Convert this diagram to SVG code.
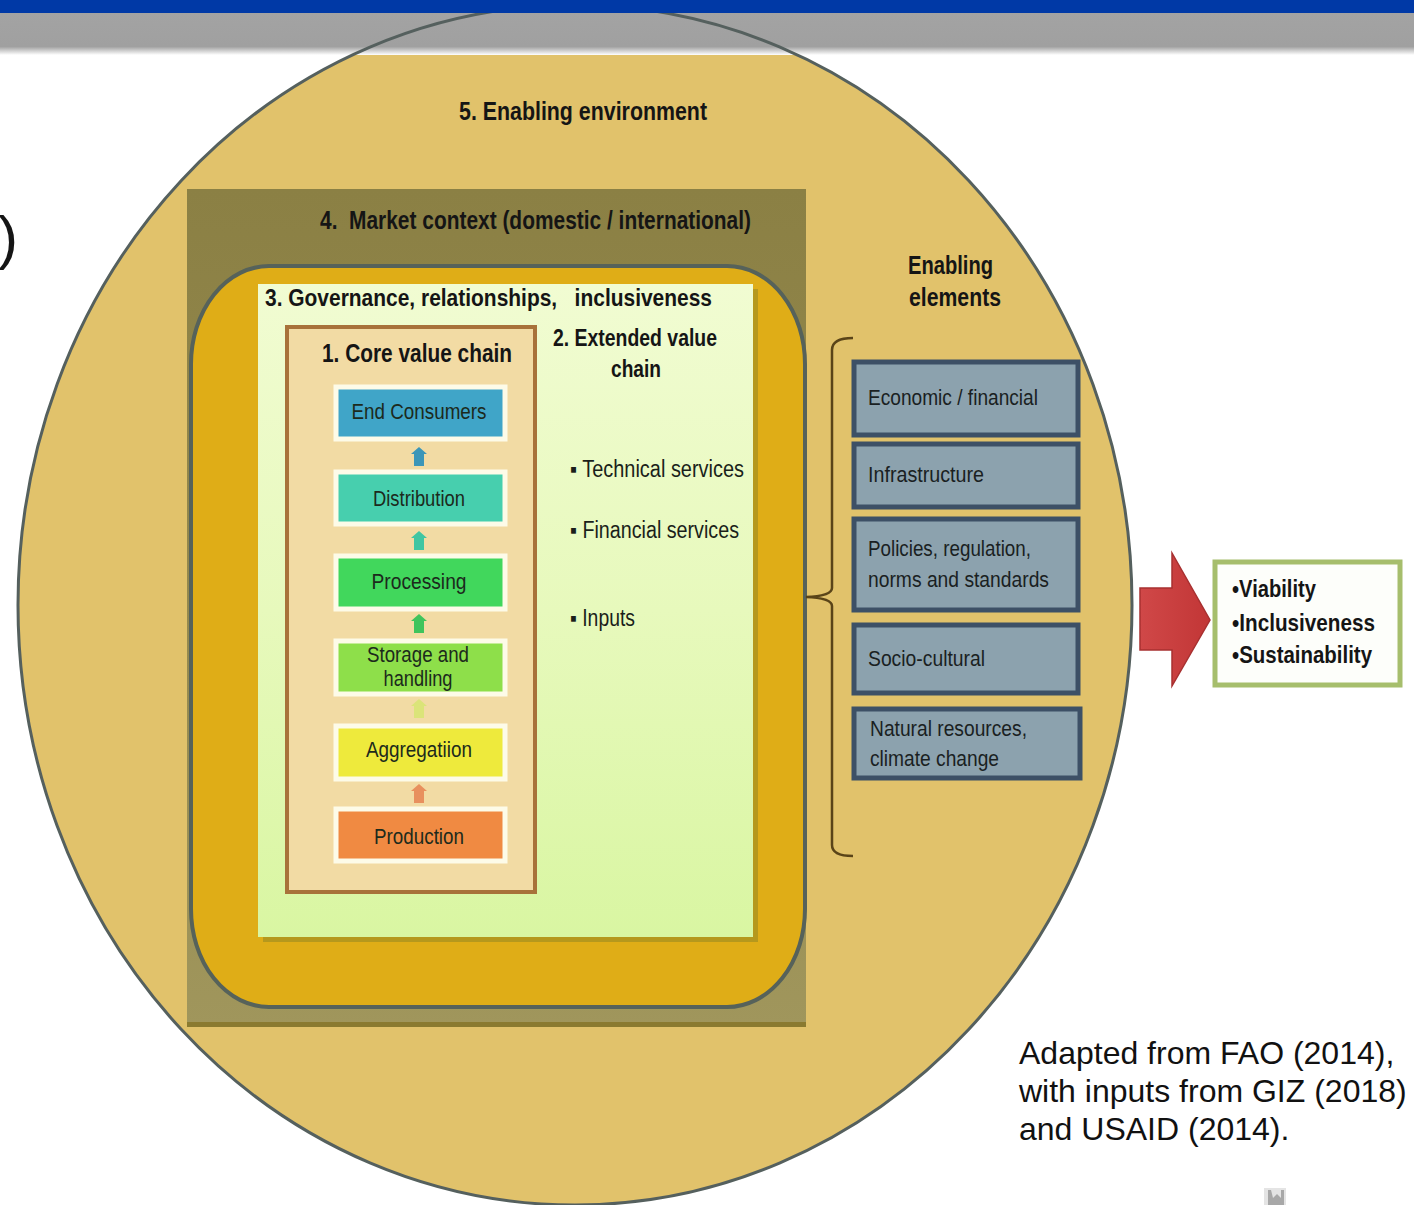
<svg xmlns="http://www.w3.org/2000/svg" width="1414" height="1205" viewBox="0 0 1414 1205">
<defs>
<style>
.t{font-family:"Liberation Sans",Arial,sans-serif;fill:#151515}
.b{font-weight:bold}
.ttl{font-size:25px;font-weight:bold}
.cv{font-size:22px;text-anchor:middle;fill:#1c2a1c}
.ee{font-size:22px;fill:#1a1f22}
.bl{font-size:23px;fill:#1a1f1a}
.cvbox{stroke:#fdfbe8;stroke-width:5}
.enb{fill:#8ca2ae;stroke:#3d5066;stroke-width:5}
.src{font-size:32px;fill:#111}
</style>
<linearGradient id="gBar" x1="0" y1="0" x2="0" y2="1">
<stop offset="0" stop-color="#a3a3a3"/><stop offset="0.8" stop-color="#a0a0a0"/><stop offset="1" stop-color="#ffffff"/>
</linearGradient>
<linearGradient id="gMkt" x1="0" y1="0" x2="0" y2="1">
<stop offset="0" stop-color="#8b8044"/><stop offset="0.6" stop-color="#968b50"/><stop offset="1" stop-color="#a0965c"/>
</linearGradient>
<linearGradient id="gGreen" x1="0" y1="0" x2="0" y2="1">
<stop offset="0" stop-color="#f1fcd2"/><stop offset="0.5" stop-color="#e7f9bc"/><stop offset="1" stop-color="#d9f6a2"/>
</linearGradient>
<linearGradient id="gRed" x1="0" y1="0" x2="1" y2="0">
<stop offset="0" stop-color="#d04848"/><stop offset="1" stop-color="#c23636"/>
</linearGradient>
</defs>

<rect x="0" y="0" width="1414" height="1205" fill="#ffffff"/>

<g id="enabling-environment">
<ellipse cx="575" cy="605" rx="557" ry="600" fill="#e1c26b"/>
</g>

<g id="header-bar">
<rect x="0" y="13" width="1414" height="42" fill="url(#gBar)"/>
</g>
<ellipse cx="575" cy="605" rx="557" ry="600" fill="none" stroke="#55605e" stroke-width="3"/>
<rect x="0" y="0" width="1414" height="13" fill="#0039a6"/>
<text class="t" x="-2" y="258" font-size="60">)</text>
<text class="t ttl" x="459" y="120" textLength="248" lengthAdjust="spacingAndGlyphs">5. Enabling environment</text>

<g id="market-context">
<rect x="187" y="189" width="619" height="838" fill="url(#gMkt)"/>
<rect x="187" y="1022" width="619" height="5" fill="#8a7a30"/>
<text class="t ttl" x="320" y="229" textLength="431" lengthAdjust="spacingAndGlyphs" style="white-space:pre">4.  Market context (domestic / international)</text>
</g>

<g id="governance">
<rect x="191" y="266" width="614" height="741" rx="78" ry="98" fill="#dfad17" stroke="#56625a" stroke-width="4"/>
<rect x="263" y="289" width="495" height="653" fill="#9a8a22" opacity="0.6"/>
<rect x="258" y="284" width="495" height="653" fill="url(#gGreen)"/>
<text class="t b" x="265" y="306" font-size="24" textLength="447" lengthAdjust="spacingAndGlyphs" style="white-space:pre">3. Governance, relationships,   inclusiveness</text>
</g>

<g id="extended-value-chain">
<text class="t b" x="635" y="346" font-size="24" text-anchor="middle" textLength="164" lengthAdjust="spacingAndGlyphs">2. Extended value</text>
<text class="t b" x="636" y="377" font-size="24" text-anchor="middle" textLength="50" lengthAdjust="spacingAndGlyphs">chain</text>
<text class="t bl" x="570" y="477" textLength="174" lengthAdjust="spacingAndGlyphs">▪ Technical services</text>
<text class="t bl" x="570" y="538" textLength="169" lengthAdjust="spacingAndGlyphs">▪ Financial services</text>
<text class="t bl" x="570" y="626" textLength="65" lengthAdjust="spacingAndGlyphs">▪ Inputs</text>
</g>

<g id="core-value-chain">
<rect x="287" y="327" width="248" height="565" fill="#f2dba4" stroke="#a8723a" stroke-width="4"/>
<text class="t b" x="322" y="362" font-size="26" textLength="190" lengthAdjust="spacingAndGlyphs">1. Core value chain</text>
</g>

<g id="end-consumers">
<rect class="cvbox" x="336" y="387" width="169" height="52" fill="#40a5c8"/>
<text class="t cv" x="419" y="419" textLength="135" lengthAdjust="spacingAndGlyphs">End Consumers</text>
</g>
<g id="distribution">
<rect class="cvbox" x="336" y="472" width="169" height="52" fill="#47cfae"/>
<text class="t cv" x="419" y="506" textLength="92" lengthAdjust="spacingAndGlyphs">Distribution</text>
</g>
<g id="processing">
<rect class="cvbox" x="336" y="556" width="169" height="53" fill="#41d75c"/>
<text class="t cv" x="419" y="589" textLength="95" lengthAdjust="spacingAndGlyphs">Processing</text>
</g>
<g id="storage-handling">
<rect class="cvbox" x="336" y="641" width="169" height="53" fill="#8edf4a"/>
<text class="t cv" x="418" y="662" textLength="102" lengthAdjust="spacingAndGlyphs">Storage and</text>
<text class="t cv" x="418" y="686" textLength="69" lengthAdjust="spacingAndGlyphs">handling</text>
</g>
<g id="aggregation">
<rect class="cvbox" x="336" y="726" width="169" height="53" fill="#eeea3c"/>
<text class="t cv" x="419" y="757" textLength="106" lengthAdjust="spacingAndGlyphs">Aggregatiion</text>
</g>
<g id="production">
<rect class="cvbox" x="336" y="809" width="169" height="52" fill="#f08a42"/>
<text class="t cv" x="419" y="844" textLength="90" lengthAdjust="spacingAndGlyphs">Production</text>
</g>

<g id="enabling-elements-title">
<text class="t ttl" x="908" y="274" textLength="85" lengthAdjust="spacingAndGlyphs">Enabling</text>
<text class="t ttl" x="909" y="306" textLength="92" lengthAdjust="spacingAndGlyphs">elements</text>
</g>

<g id="economic-financial">
<rect class="enb" x="854" y="362" width="224" height="73"/>
<text class="t ee" x="868" y="405" textLength="170" lengthAdjust="spacingAndGlyphs">Economic / financial</text>
</g>
<g id="infrastructure">
<rect class="enb" x="854" y="444" width="224" height="63"/>
<text class="t ee" x="868" y="482" textLength="116" lengthAdjust="spacingAndGlyphs">Infrastructure</text>
</g>
<g id="policies">
<rect class="enb" x="854" y="519" width="224" height="91"/>
<text class="t ee" x="868" y="556" textLength="163" lengthAdjust="spacingAndGlyphs">Policies, regulation,</text>
<text class="t ee" x="868" y="587" textLength="181" lengthAdjust="spacingAndGlyphs">norms and standards</text>
</g>
<g id="socio-cultural">
<rect class="enb" x="854" y="625" width="224" height="68"/>
<text class="t ee" x="868" y="666" textLength="117" lengthAdjust="spacingAndGlyphs">Socio-cultural</text>
</g>
<g id="natural-resources">
<rect class="enb" x="854" y="709" width="226" height="69"/>
<text class="t ee" x="870" y="736" textLength="157" lengthAdjust="spacingAndGlyphs">Natural resources,</text>
<text class="t ee" x="870" y="766" textLength="129" lengthAdjust="spacingAndGlyphs">climate change</text>
</g>

<g id="outcomes">
<rect x="1215" y="562" width="185" height="123" fill="#fdfefa" stroke="#a6be6c" stroke-width="5"/>
<text class="t b" x="1232" y="597" font-size="24" textLength="84" lengthAdjust="spacingAndGlyphs">•Viability</text>
<text class="t b" x="1232" y="631" font-size="24" textLength="143" lengthAdjust="spacingAndGlyphs">•Inclusiveness</text>
<text class="t b" x="1232" y="663" font-size="24" textLength="140" lengthAdjust="spacingAndGlyphs">•Sustainability</text>
</g>

<g id="connectors">
<polygon points="419,447 427,454 424,454 424,466 414,466 414,454 411,454" fill="#3c96b8"/>
<polygon points="419,531 427,538 424,538 424,550 414,550 414,538 411,538" fill="#40c6a2"/>
<polygon points="419,614 427,621 424,621 424,633 414,633 414,621 411,621" fill="#3fc45c"/>
<polygon points="419,699 427,706 424,706 424,718 414,718 414,706 411,706" fill="#d4e66e" opacity="0.8"/>
<polygon points="419,784 427,791 424,791 424,803 414,803 414,791 411,791" fill="#e8905e"/>
<path d="M853,338 Q832,338 832,350 L832,588 Q832,596 806,597 Q832,598 832,606 L832,845 Q832,856 853,856" fill="none" stroke="#5a4418" stroke-width="2.5"/>
<polygon points="1140,588 1172,588 1172,553 1210,620 1172,686 1172,650 1140,650" fill="url(#gRed)" stroke="#a83030" stroke-width="1.5"/>
</g>

<g id="source-note">
<text class="t src" x="1019" y="1064">Adapted from FAO (2014),</text>
<text class="t src" x="1019" y="1102">with inputs from GIZ (2018)</text>
<text class="t src" x="1019" y="1140">and USAID (2014).</text>
</g>

<g id="logo">
<rect x="1264" y="1188" width="22" height="17" fill="#e4e4e4"/>
<path d="M1268,1190 L1268,1205 L1284,1205 L1284,1190 L1281,1190 L1281,1198 L1277,1194 L1273,1198 L1271,1190 Z" fill="#a8a8a8"/>
</g>
</svg>
